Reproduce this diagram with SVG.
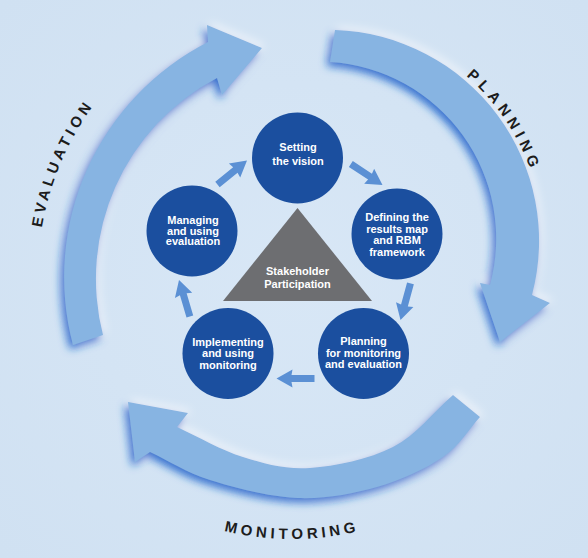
<svg xmlns="http://www.w3.org/2000/svg" xmlns:xlink="http://www.w3.org/1999/xlink" width="588" height="558" viewBox="0 0 588 558">
<defs>
<style>
.big{font-family:"Liberation Sans",Arial,sans-serif;font-weight:bold;font-size:15px;fill:#1c1c1c;letter-spacing:4px}
.nt{font-family:"Liberation Sans",Arial,sans-serif;font-weight:bold;font-size:11px;fill:#ffffff;text-anchor:middle}
.node{fill:#1b4f9f}
.arc{fill:#87b4e2;filter:url(#sh)}
.sa{fill:#5b90d4}
</style>
<radialGradient id="bg" cx="50%" cy="50%" r="70%">
<stop offset="0" stop-color="#d8e7f6"/>
<stop offset="1" stop-color="#d0e1f2"/>
</radialGradient>
<filter id="sh" x="-20%" y="-20%" width="140%" height="140%">
<feGaussianBlur in="SourceAlpha" stdDeviation="4" result="b"/>
<feOffset in="b" dx="3" dy="-3" result="wo"/>
<feFlood flood-color="#ffffff" flood-opacity="0.6"/>
<feComposite in2="wo" operator="in" result="w"/>
<feOffset in="b" dx="-3" dy="4" result="o"/>
<feFlood flood-color="#1a66cc" flood-opacity="0.95"/>
<feComposite in2="o" operator="in" result="s"/>
<feMerge><feMergeNode in="w"/><feMergeNode in="s"/><feMergeNode in="SourceGraphic"/></feMerge>
</filter>
<polygon id="sa" points="-38,-3.5 -15,-3.5 -16,-9 0,0 -16,9 -15,3.5 -38,3.5"/>
<path id="pEval" d="M38,275 A287,287 0 0 1 125.6,68.6"/>
<path id="pPlan" d="M431.8,51.4 A223.5,223.5 0 0 1 541.3,213.9"/>
<path id="pMon" d="M169.4,511.8 A290,290 0 0 0 414.6,511.8"/>
</defs>
<rect width="588" height="558" fill="url(#bg)"/>

<g id="evaluation-phase">
<path class="arc" d="M73,345 A264,264 0 0 1 208,42 L207,25 L262,48 L222,95 L217,78 A227,227 0 0 0 103,335 Z"/>
<text class="big"><textPath xlink:href="#pEval" href="#pEval" startOffset="50%" text-anchor="middle">EVALUATION</textPath></text>
</g>
<g id="planning-phase">
<path class="arc" d="M335,30 A211,211 0 0 1 532,295 L550,303 L500,342 L480,283 L490,285 A177,177 0 0 0 330,62 Z"/>
<text class="big" style="letter-spacing:5px"><textPath xlink:href="#pPlan" href="#pPlan" startOffset="50%" text-anchor="middle">PLANNING</textPath></text>
</g>
<g id="monitoring-phase">
<path class="arc" d="M453,395 C433,412.3 416.8,434.8 393,447 C369.2,459.2 335,466.3 310,468 C285,469.7 265.2,463.8 243,457 C220.8,450.2 199,437 177,427 L188,413 L128,402 L135,462 L150,452 C170,461.3 185.5,472.3 210,480 C234.5,487.7 269.2,496.8 297,498 C324.8,499.2 352.7,493.8 377,487 C401.3,480.2 425.8,468.7 443,457 C460.2,445.3 467.7,430.3 480,417 Z"/>
<text class="big"><textPath xlink:href="#pMon" href="#pMon" startOffset="50%" text-anchor="middle">MONITORING</textPath></text>
</g>

<g id="connectors" class="sa">
<use xlink:href="#sa" href="#sa" transform="translate(247,160.5) rotate(-39)"/>
<use xlink:href="#sa" href="#sa" transform="translate(382.5,185) rotate(33.6)"/>
<use xlink:href="#sa" href="#sa" transform="translate(400.5,320) rotate(105.2)"/>
<use xlink:href="#sa" href="#sa" transform="translate(276.5,378.5) rotate(180)"/>
<use xlink:href="#sa" href="#sa" transform="translate(179,280) rotate(253.4)"/>
</g>

<g id="stakeholder">
<polygon points="297.5,208 223,301 372,301" fill="#6d6e71"/>
<text class="nt" x="297.5" y="275" fill="#f2f2f2">Stakeholder</text>
<text class="nt" x="297.5" y="288" fill="#f2f2f2">Participation</text>
</g>

<g id="setting-vision">
<circle class="node" cx="297.5" cy="158" r="45.5"/>
<text class="nt" x="298" y="151">Setting</text>
<text class="nt" x="298" y="164.5">the vision</text>
</g>

<g id="defining-results">
<circle class="node" cx="397" cy="234" r="45.5"/>
<text class="nt" x="397" y="221">Defining the</text>
<text class="nt" x="397" y="232.5">results map</text>
<text class="nt" x="397" y="244">and RBM</text>
<text class="nt" x="397" y="255.5">framework</text>
</g>

<g id="planning-me">
<circle class="node" cx="363.5" cy="353.5" r="45.5"/>
<text class="nt" x="363.5" y="345">Planning</text>
<text class="nt" x="363.5" y="356.5">for monitoring</text>
<text class="nt" x="363.5" y="368">and evaluation</text>
</g>

<g id="implementing-monitoring">
<circle class="node" cx="228" cy="353.5" r="45.5"/>
<text class="nt" x="228" y="345.5">Implementing</text>
<text class="nt" x="228" y="357">and using</text>
<text class="nt" x="228" y="368.5">monitoring</text>
</g>

<g id="managing-evaluation">
<circle class="node" cx="192" cy="231" r="45.5"/>
<text class="nt" x="193" y="224">Managing</text>
<text class="nt" x="193" y="234.5">and using</text>
<text class="nt" x="193" y="245">evaluation</text>
</g>
</svg>
